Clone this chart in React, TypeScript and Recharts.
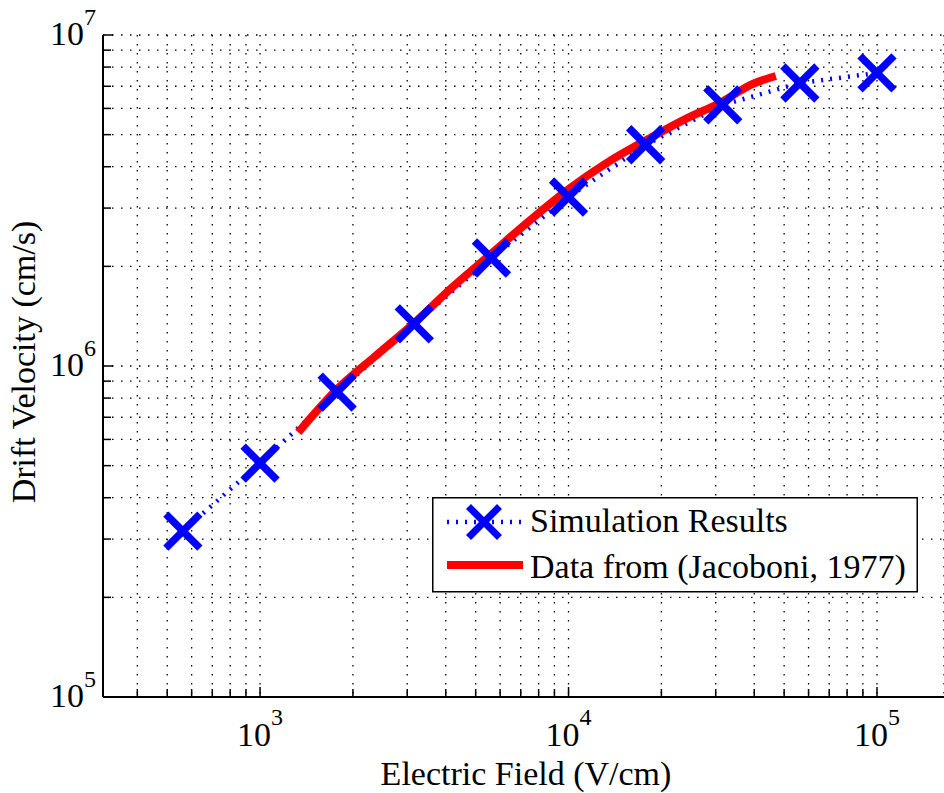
import React from 'react';
import { LineChart, Line, XAxis, YAxis, CartesianGrid, Legend, Label } from 'recharts';

// Simulation results (blue X markers, dotted line)
const simField = [562, 1000, 1778, 3162, 5623, 10000, 17783, 31623, 56234, 100000];
const simVelocity = [3.17e5, 5.09e5, 8.34e5, 1.34e6, 2.12e6, 3.24e6, 4.66e6, 6.15e6, 7.16e6, 7.68e6];

// Reference data (Jacoboni, 1977) - red curve
const refField = [1330, 1764, 2361, 3133, 4200, 5570, 7515, 10000, 13150, 17780, 23900, 31620, 38800, 47000];
const refVelocity = [6.3e5, 8.45e5, 1.07e6, 1.34e6, 1.73e6, 2.17e6, 2.76e6, 3.42e6, 4.08e6, 4.8e6, 5.57e6, 6.3e6, 7.06e6, 7.52e6];

const xDomain = [309.6, 164900];
const yDomain = [1e5, 1e7];

const xTicks = [400, 500, 600, 700, 800, 900, 1000, 2000, 3000, 4000, 5000, 6000, 7000, 8000, 9000, 10000,
  20000, 30000, 40000, 50000, 60000, 70000, 80000, 90000, 100000];
const yTicks = [100000, 200000, 300000, 400000, 500000, 600000, 700000, 800000, 900000, 1000000,
  2000000, 3000000, 4000000, 5000000, 6000000, 7000000, 8000000, 9000000, 10000000];
const xMajor = [1000, 10000, 100000];
const yMajor = [100000, 1000000, 10000000];

const xLabel = 'Electric Field (V/cm)';
const yLabel = 'Drift Velocity (cm/s)';
const seriesNames = ['Simulation Results', 'Data from (Jacoboni, 1977)'];

const simData = simField.map((e, i) => ({ e, v: simVelocity[i] }));
const refData = refField.map((e, i) => ({ e, v: refVelocity[i] }));

const FONT = "'Liberation Serif', 'Times New Roman', serif";
const BLUE = '#0000ff';
const RED = '#ff0000';

const expOf = (v: number) => Math.round(Math.log10(v));

const BottomTick = (props: any) => {
  const { x, y, payload } = props;
  const v = payload.value;
  const major = xMajor.includes(v);
  return (
    <g>
      <line x1={x} x2={x} y1={y} y2={y - (major ? 10 : 8)} stroke="#000" strokeWidth={1.5} />
      {major && (
        <text x={x} y={y + 49} textAnchor="middle" fontFamily={FONT} fontSize={34} fill="#000">
          <tspan>10</tspan>
          <tspan dy={-21} fontSize={24}>{expOf(v)}</tspan>
        </text>
      )}
    </g>
  );
};

const TopTick = (props: any) => {
  const { x, y, payload } = props;
  const major = xMajor.includes(payload.value);
  return <line x1={x} x2={x} y1={y} y2={y + (major ? 10 : 8)} stroke="#000" strokeWidth={1.5} />;
};

const LeftTick = (props: any) => {
  const { x, y, payload } = props;
  const v = payload.value;
  const major = yMajor.includes(v);
  return (
    <g>
      <line x1={x} x2={x + (major ? 10 : 8)} y1={y} y2={y} stroke="#000" strokeWidth={1.5} />
      {major && (
        <text x={x - 7} y={y + 10} textAnchor="end" fontFamily={FONT} fontSize={34} fill="#000">
          <tspan>10</tspan>
          <tspan dy={-20} fontSize={24}>{expOf(v)}</tspan>
        </text>
      )}
    </g>
  );
};

const XMark = ({ cx, cy, r = 17, w = 7.5 }: any) => {
  if (cx == null || cy == null) return null;
  return (
    <g>
      <line x1={cx - r} y1={cy - r} x2={cx + r} y2={cy + r} stroke={BLUE} strokeWidth={w} />
      <line x1={cx - r} y1={cy + r} x2={cx + r} y2={cy - r} stroke={BLUE} strokeWidth={w} />
    </g>
  );
};

const LegendBox = () => (
  <svg width={486} height={96} style={{ display: 'block' }}>
    <rect x={0.75} y={0.75} width={484.5} height={94} fill="#fff" stroke="#000" strokeWidth={1.5} />
    <line x1={15} x2={91} y1={25} y2={25} stroke={BLUE} strokeWidth={4.5} strokeDasharray="2 7" />
    <XMark cx={52} cy={25} r={15.5} w={7} />
    <text x={98} y={35} fontFamily={FONT} fontSize={34} fill="#000">{seriesNames[0]}</text>
    <line x1={15} x2={91} y1={68} y2={68} stroke={RED} strokeWidth={8} />
    <text x={98} y={81} fontFamily={FONT} fontSize={34} fill="#000">{seriesNames[1]}</text>
  </svg>
);

export default function App() {
  return (
    <div style={{ position: 'absolute', left: 0, top: 0, width: 944, height: 793, background: '#fff' }}>
      <LineChart width={944} height={793} margin={{ top: 35, right: 0, bottom: 0, left: 0 }}>
        <CartesianGrid stroke="#000" strokeWidth={1.3} strokeDasharray="1.5 7.5" />
        <XAxis
          dataKey="e"
          type="number"
          scale="log"
          domain={xDomain}
          allowDataOverflow
          ticks={xTicks}
          interval={0}
          height={96}
          tickSize={0}
          tickMargin={0}
          tickLine={false}
          tick={<BottomTick />}
          axisLine={{ stroke: '#000', strokeWidth: 2 }}
        >
          <Label
            content={() => (
              <text x={526} y={785} textAnchor="middle" fontFamily={FONT} fontSize={34} fill="#000">{xLabel}</text>
            )}
          />
        </XAxis>
        <XAxis
          xAxisId="top"
          orientation="top"
          type="number"
          scale="log"
          domain={xDomain}
          allowDataOverflow
          ticks={xTicks}
          interval={0}
          height={0}
          tickSize={0}
          tickMargin={0}
          tickLine={false}
          tick={<TopTick />}
          axisLine={{ stroke: '#000', strokeWidth: 2 }}
        />
        <YAxis
          dataKey="v"
          type="number"
          scale="log"
          domain={yDomain}
          allowDataOverflow
          ticks={yTicks}
          interval={0}
          width={103}
          tickSize={0}
          tickMargin={0}
          tickLine={false}
          tick={<LeftTick />}
          axisLine={{ stroke: '#000', strokeWidth: 2 }}
        >
          <Label
            content={() => (
              <text transform="translate(35,362) rotate(-90)" textAnchor="middle" fontFamily={FONT} fontSize={34} fill="#000">{yLabel}</text>
            )}
          />
        </YAxis>
        <Line
          data={simData}
          dataKey="v"
          name={seriesNames[0]}
          stroke={BLUE}
          strokeWidth={4.5}
          strokeDasharray="2 7"
          dot={(p: any) => <XMark key={`m${p.index}`} cx={p.cx} cy={p.cy} />}
          activeDot={false}
          isAnimationActive={false}
        />
        <Line
          data={refData}
          dataKey="v"
          name={seriesNames[1]}
          type="monotone"
          stroke={RED}
          strokeWidth={8}
          dot={false}
          activeDot={false}
          isAnimationActive={false}
        />
        <Legend
          layout="horizontal"
          verticalAlign="middle"
          align="center"
          wrapperStyle={{ left: 432, top: 497, width: 486, height: 96 }}
          content={() => <LegendBox />}
        />
      </LineChart>
    </div>
  );
}
